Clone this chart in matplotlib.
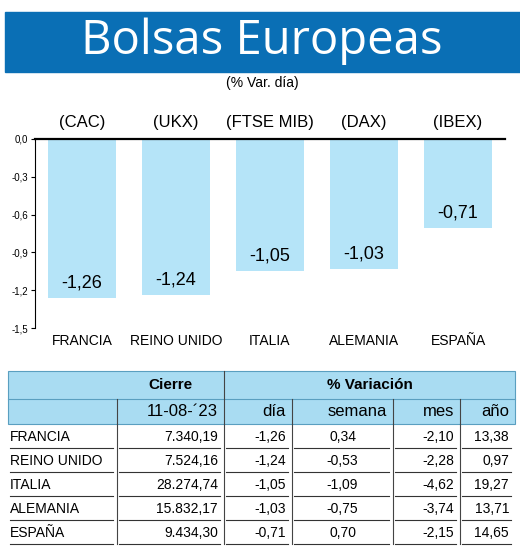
import matplotlib
matplotlib.use("Agg")
import matplotlib.pyplot as plt

plt.rcParams['font.family'] = ['Liberation Sans Narrow', 'Liberation Sans', 'DejaVu Sans']

# Data
tickers = ["(CAC)", "(UKX)", "(FTSE MIB)", "(DAX)", "(IBEX)"]
countries = ["FRANCIA", "REINO UNIDO", "ITALIA", "ALEMANIA", "ESPAÑA"]
var_dia = [-1.26, -1.24, -1.05, -1.03, -0.71]
cierre = ["7.340,19", "7.524,16", "28.274,74", "15.832,17", "9.434,30"]
dia = ["-1,26", "-1,24", "-1,05", "-1,03", "-0,71"]
semana = ["0,34", "-0,53", "-1,09", "-0,75", "0,70"]
mes = ["-2,10", "-2,28", "-4,62", "-3,74", "-2,15"]
anio = ["13,38", "0,97", "19,27", "13,71", "14,65"]
yticks = [0.0, -0.3, -0.6, -0.9, -1.2, -1.5]

W, H = 520, 551
BLUE = "#0a6fb5"
LIGHT = "#b5e4f8"
HEAD = "#a9dcf2"

fig = plt.figure(figsize=(W / 100, H / 100), dpi=100)

# overlay axes in pixel coordinates
ov = fig.add_axes([0, 0, 1, 1])
ov.set_xlim(0, W)
ov.set_ylim(H, 0)
ov.axis("off")

# Title banner
ov.add_patch(plt.Rectangle((5, 12), 515, 60, color=BLUE))
ov.text(262, 41, "Bolsas Europeas", color="white", fontsize=34, ha="center", va="center",
        family=["Open Sans", "DejaVu Sans"])
ov.text(262, 83, "(% Var. día)", fontsize=10, ha="center", va="center")

# Bar chart
ax = fig.add_axes([35 / W, 1 - 328 / H, 470 / W, 189 / H])
x = range(len(var_dia))
ax.bar(x, var_dia, width=0.72, color=LIGHT)
ax.set_xlim(-0.5, 4.5)
ax.set_ylim(-1.5, 0)
ax.set_yticks(yticks)
ax.set_yticklabels(["0,0" if v == 0 else f"{v:.1f}".replace(".", ",") for v in yticks], fontsize=7)
ax.set_xticks([])
for s in ["right", "bottom"]:
    ax.spines[s].set_visible(False)
ax.spines["top"].set_linewidth(1.6)
ax.spines["left"].set_linewidth(0.8)
ax.tick_params(axis="y", length=3, pad=2)
for i, v in enumerate(var_dia):
    ax.text(i, v + 0.12, f"{v:.2f}".replace(".", ","), ha="center", va="center", fontsize=13)
    ax.text(i, 0.13, tickers[i], ha="center", va="center", fontsize=12)
    ax.text(i, -1.60, countries[i], ha="center", va="center", fontsize=10)

# Table
cols = [8, 117, 224, 292, 393, 460, 515]
ov.add_patch(plt.Rectangle((8, 371), 507, 53, facecolor=HEAD, edgecolor="#5a9fc0", lw=0.8))
ov.plot([8, 515], [399, 399], color="#5a9fc0", lw=0.8)
ov.plot([224, 224], [371, 424], color="#444", lw=0.8)
for c in cols[1:-1]:
    if c != 224:
        ov.plot([c, c], [399, 424], color="#444", lw=0.8)
ov.text(170, 385, "Cierre", fontsize=11, ha="center", va="center", fontweight="bold")
ov.text(370, 385, "% Variación", fontsize=11, ha="center", va="center", fontweight="bold")
hdr = ["11-08-´23", "día", "semana", "mes", "año"]
for j, h in enumerate(hdr):
    ov.text(cols[j + 2] - 6, 412, h, fontsize=12, ha="right", va="center")
rows = list(zip(countries, cierre, dia, semana, mes, anio))
for r, row in enumerate(rows):
    yc = 437 + r * 24
    yl = 448 + r * 24
    ov.text(10, yc, row[0], fontsize=10, ha="left", va="center")
    for j in range(1, 6):
        if j == 3:
            ov.text((cols[3] + cols[4]) / 2, yc, row[j], fontsize=10, ha="center", va="center")
        else:
            ov.text(cols[j + 1] - 6, yc, row[j], fontsize=10, ha="right", va="center")
    for j in range(6):
        ov.plot([cols[j] + 2, cols[j + 1] - 4], [yl, yl], color="#333", lw=0.8)
for c in cols[1:-1]:
    ov.plot([c, c], [424, 544], color="#444", lw=0.8)

fig.savefig("out.png", dpi=100, facecolor="white")
